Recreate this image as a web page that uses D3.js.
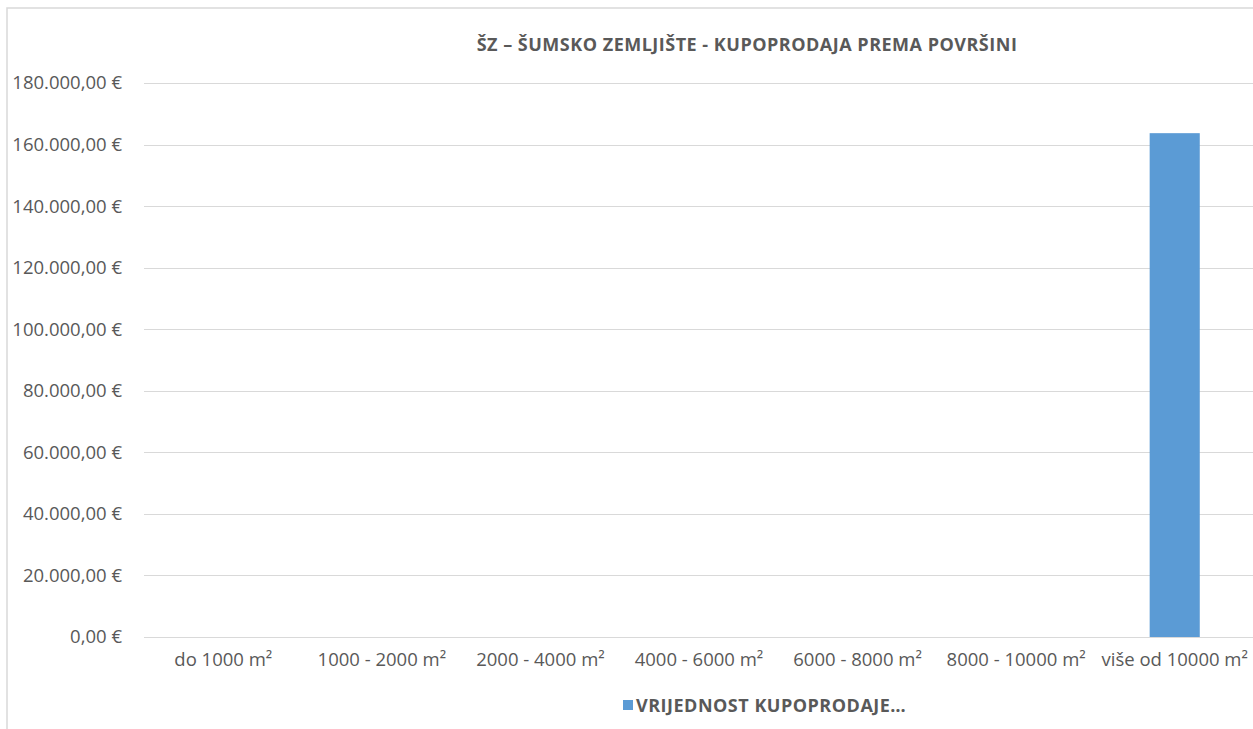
<!DOCTYPE html>
<html>
<head>
<meta charset="utf-8">
<script src="https://cdn.jsdelivr.net/npm/d3@7"></script>
<style>
  body { margin: 0; background: #fff; }
  text { font-family: "Open Sans", "Liberation Sans", Arial, sans-serif; fill: #595959; }
</style>
</head>
<body>
<div id="chart"></div>
<script>
// chart data
const categories = ["do 1000 m²", "1000 - 2000 m²", "2000 - 4000 m²", "4000 - 6000 m²", "6000 - 8000 m²", "8000 - 10000 m²", "više od 10000 m²"]
const values = [0, 0, 0, 0, 0, 0, 163700]
const yTicks = [0, 20000, 40000, 60000, 80000, 100000, 120000, 140000, 160000, 180000]
const seriesName = "VRIJEDNOST KUPOPRODAJE…"
const title = "ŠZ – ŠUMSKO ZEMLJIŠTE - KUPOPRODAJA PREMA POVRŠINI"

const W = 1253, H = 729
const margin = {top: 83, right: 0, bottom: 92, left: 144}

const svg = d3.select("#chart").append("svg")
    .attr("width", W)
    .attr("height", H)

// outer chart frame (only top and left visible, rest cropped)
svg.append("rect")
    .attr("x", 7).attr("y", 8)
    .attr("width", W + 50).attr("height", H + 50)
    .attr("fill", "none")
    .attr("stroke", "#d9d9d9")
    .attr("stroke-width", 1.5)

const locale = d3.formatLocale({decimal: ",", thousands: ".", grouping: [3], currency: ["", " €"]})
const fmt = v => locale.format(",.2f")(v) + " €"

const x = d3.scaleBand()
    .domain(categories)
    .range([margin.left, 1254])
    .paddingInner(0.684)
    .paddingOuter(0.342)

const y = d3.scaleLinear()
    .domain([0, 180000])
    .range([637, 83])

// gridlines
svg.append("g")
    .selectAll("line")
    .data(yTicks)
    .enter().append("line")
    .attr("x1", margin.left)
    .attr("x2", W)
    .attr("y1", d => Math.round(y(d)) + 0.5)
    .attr("y2", d => Math.round(y(d)) + 0.5)
    .attr("stroke", "#d9d9d9")
    .attr("stroke-width", 1)

// y axis labels
const yAxis = svg.append("g")
    .attr("transform", `translate(${margin.left - 22},0)`)
    .call(d3.axisLeft(y).tickValues(yTicks).tickFormat(fmt).tickSize(0).tickPadding(0))
yAxis.select(".domain").remove()
yAxis.selectAll("text")
    .style("font-size", "18.5px")
    .attr("fill", "#595959")

// bars
svg.append("g")
    .selectAll("rect")
    .data(values)
    .enter().append("rect")
    .attr("x", (d, i) => x(categories[i]))
    .attr("width", x.bandwidth())
    .attr("y", d => y(d))
    .attr("height", d => y(0) - y(d))
    .attr("fill", "#5b9bd5")

// x axis labels
const xAxis = svg.append("g")
    .attr("transform", `translate(0,${y(0)})`)
    .call(d3.axisBottom(x).tickSize(0).tickPadding(16))
xAxis.select(".domain").remove()
xAxis.selectAll("text")
    .style("font-size", "18.5px")
    .attr("fill", "#595959")

// title
svg.append("text")
    .attr("x", 747)
    .attr("y", 51)
    .attr("text-anchor", "middle")
    .style("font-size", "18px")
    .style("letter-spacing", "0.5px")
    .style("font-weight", "bold")
    .text(title)

// legend
const legend = svg.append("g").attr("transform", "translate(623,700)")
legend.append("rect")
    .attr("width", 10).attr("height", 10)
    .attr("fill", "#5b9bd5")
legend.append("text")
    .attr("x", 13)
    .attr("y", 11.5)
    .style("font-size", "18px")
    .style("letter-spacing", "0.5px")
    .style("font-weight", "bold")
    .text(seriesName)
</script>
</body>
</html>
